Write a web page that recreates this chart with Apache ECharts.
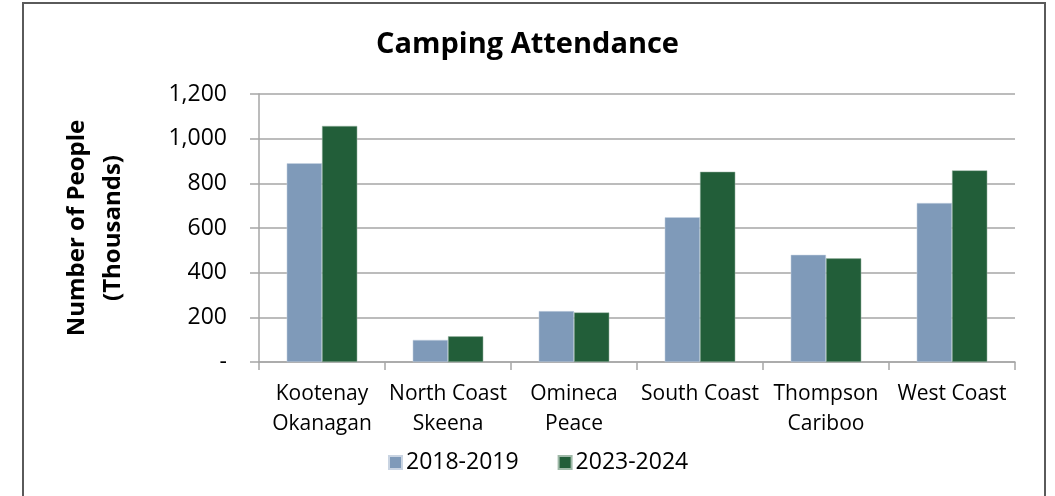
<!DOCTYPE html>
<html>
<head>
<meta charset="utf-8">
<script src="https://cdn.jsdelivr.net/npm/echarts@6/dist/echarts.min.js"></script>
<style>
  html, body { margin: 0; padding: 0; background: #fff; }
  #main { width: 1055px; height: 496px; }
</style>
</head>
<body>
<div id="main"></div>
<script>
const regions = ['Kootenay\nOkanagan', 'North Coast\nSkeena', 'Omineca\nPeace', 'South Coast', 'Thompson\nCariboo', 'West Coast'];
const years1819 = [890, 99, 228, 648, 480, 712];
const years2324 = [1057, 115, 222, 852, 464, 858];
const seriesNames = ['2018-2019', '2023-2024'];

const chart = echarts.init(document.getElementById('main'));
const font = '"Open Sans", "Noto Sans", sans-serif';

const option = {
  backgroundColor: '#ffffff',
  animation: false,
  graphic: [{
    type: 'rect',
    shape: { x: 23, y: 3, width: 1022, height: 520 },
    style: { fill: 'none', stroke: '#5a5a5a', lineWidth: 2 },
    silent: true
  }],
  title: {
    text: 'Camping Attendance',
    left: 'center',
    top: 25,
    textStyle: { fontFamily: font, fontSize: 29, fontWeight: 'bold', color: '#000' }
  },
  legend: {
    data: seriesNames,
    left: 383,
    top: 446,
    itemWidth: 13,
    itemHeight: 13,
    itemGap: 39,
    icon: 'rect',
    textStyle: { fontFamily: font, fontSize: 23, color: '#000', padding: [0, 0, 0, -1] }
  },
  grid: { left: 259, right: 40, top: 94, bottom: 134 },
  xAxis: {
    type: 'category',
    data: regions,
    boundaryGap: true,
    axisLine: { lineStyle: { color: '#a6a6a6', width: 1.5 } },
    axisTick: { show: true, length: 8, lineStyle: { color: '#a6a6a6', width: 1.5 } },
    axisLabel: { fontFamily: font, fontSize: 21, color: '#000', lineHeight: 30, margin: 17, interval: 0 }
  },
  yAxis: {
    type: 'value',
    min: 0,
    max: 1200,
    interval: 200,
    name: 'Number of People\n(Thousands)',
    nameLocation: 'middle',
    nameGap: 128,
    nameRotate: 90,
    nameTextStyle: { fontFamily: font, fontSize: 24, fontWeight: 'bold', color: '#000', lineHeight: 36 },
    axisLine: { show: true, lineStyle: { color: '#a6a6a6', width: 1.5 } },
    axisTick: { show: true, length: 9, lineStyle: { color: '#a6a6a6', width: 1.5 } },
    splitLine: { lineStyle: { color: '#a6a6a6', width: 1.5 } },
    axisLabel: {
      fontFamily: font, fontSize: 23, color: '#000', margin: 32,
      formatter: v => v === 0 ? '-' : v.toLocaleString('en-US')
    }
  },
  series: [
    {
      name: seriesNames[0],
      type: 'bar',
      data: years1819,
      barGap: '0%',
      barCategoryGap: '44%',
      itemStyle: { color: '#7f9ab9', borderColor: '#c9d4e2', borderWidth: 0.5 }
    },
    {
      name: seriesNames[1],
      type: 'bar',
      data: years2324,
      barGap: '0%',
      barCategoryGap: '44%',
      itemStyle: { color: '#225e39', borderColor: '#9fb9a8', borderWidth: 0.5 }
    }
  ]
};

chart.setOption(option);
</script>
</body>
</html>
